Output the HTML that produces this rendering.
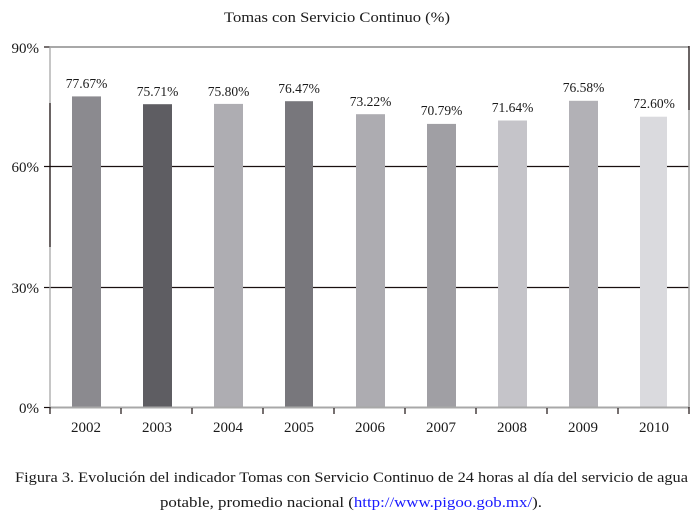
<!DOCTYPE html>
<html><head><meta charset="utf-8"><style>
html,body{margin:0;padding:0;background:#fff;}
svg{display:block;}
text{font-family:"Liberation Serif",serif;fill:#1a1a1a;}
</style></head><body>
<svg width="699" height="520" viewBox="0 0 699 520" xmlns="http://www.w3.org/2000/svg">
<rect width="699" height="520" fill="#fff"/>
<text x="337" y="22" font-size="14.5" text-anchor="middle" textLength="226" lengthAdjust="spacingAndGlyphs">Tomas con Servicio Continuo (%)</text>

<!-- gridlines -->
<line x1="50" y1="166.5" x2="689" y2="166.5" stroke="#1a1010" stroke-width="1.2"/>
<line x1="50" y1="287.5" x2="689" y2="287.5" stroke="#1a1010" stroke-width="1.2"/>
<!-- y ticks -->
<line x1="44" y1="47" x2="50" y2="47" stroke="#1a1010" stroke-width="1.2"/>
<line x1="44" y1="166.5" x2="50" y2="166.5" stroke="#1a1010" stroke-width="1.2"/>
<line x1="44" y1="287.5" x2="50" y2="287.5" stroke="#1a1010" stroke-width="1.2"/>
<line x1="44" y1="407.5" x2="50" y2="407.5" stroke="#1a1010" stroke-width="1.2"/>

<!-- bars -->
<g>
<rect x="72" y="96.4" width="29" height="311" fill="#8b8a8f"/>
<rect x="143" y="104.2" width="29" height="303.3" fill="#5e5d62"/>
<rect x="214" y="103.9" width="29" height="303.6" fill="#aeadb2"/>
<rect x="285" y="101.2" width="28" height="306.3" fill="#78777c"/>
<rect x="356" y="114.2" width="29" height="293.3" fill="#adacb1"/>
<rect x="427" y="123.9" width="29" height="283.6" fill="#a09fa4"/>
<rect x="498" y="120.5" width="29" height="287" fill="#c5c4c9"/>
<rect x="569" y="100.8" width="29" height="306.7" fill="#b2b1b6"/>
<rect x="640" y="116.7" width="27" height="290.8" fill="#dadade"/>
</g>

<!-- value labels -->
<g font-size="13.5" text-anchor="middle">
<text x="86.5" y="88">77.67%</text>
<text x="157.5" y="96">75.71%</text>
<text x="228.5" y="96">75.80%</text>
<text x="299" y="93">76.47%</text>
<text x="370.5" y="106">73.22%</text>
<text x="441.5" y="115">70.79%</text>
<text x="512.5" y="112">71.64%</text>
<text x="583.5" y="92">76.58%</text>
<text x="654" y="108">72.60%</text>
</g>

<!-- plot border -->
<line x1="50" y1="47" x2="689" y2="47" stroke="#a8a8a8" stroke-width="2"/>
<line x1="50" y1="407.5" x2="689" y2="407.5" stroke="#a8a8a8" stroke-width="2"/>
<line x1="50" y1="46" x2="50" y2="103" stroke="#a8a8a8" stroke-width="1.3"/>
<line x1="50" y1="103" x2="50" y2="247" stroke="#1a1010" stroke-width="1.3"/>
<line x1="50" y1="247" x2="50" y2="408" stroke="#a8a8a8" stroke-width="1.3"/>
<line x1="689" y1="46" x2="689" y2="110" stroke="#1a1010" stroke-width="1.3"/>
<line x1="689" y1="110" x2="689" y2="408" stroke="#a8a8a8" stroke-width="1.5"/>

<!-- x ticks -->
<g stroke="#1a1010" stroke-width="1.2">
<line x1="50" y1="407" x2="50" y2="414"/>
<line x1="121" y1="408" x2="121" y2="414"/>
<line x1="192" y1="408" x2="192" y2="414"/>
<line x1="263" y1="408" x2="263" y2="414"/>
<line x1="334" y1="408" x2="334" y2="414"/>
<line x1="405" y1="408" x2="405" y2="414"/>
<line x1="476" y1="408" x2="476" y2="414"/>
<line x1="547" y1="408" x2="547" y2="414"/>
<line x1="618" y1="408" x2="618" y2="414"/>
<line x1="689" y1="407" x2="689" y2="414"/>
</g>

<!-- y labels -->
<g font-size="15" text-anchor="end">
<text x="39" y="53">90%</text>
<text x="39" y="172">60%</text>
<text x="39" y="293">30%</text>
<text x="39" y="413">0%</text>
</g>

<!-- x labels -->
<g font-size="15" text-anchor="middle">
<text x="86" y="432">2002</text>
<text x="157" y="432">2003</text>
<text x="228" y="432">2004</text>
<text x="299" y="432">2005</text>
<text x="370" y="432">2006</text>
<text x="441" y="432">2007</text>
<text x="512" y="432">2008</text>
<text x="583" y="432">2009</text>
<text x="654" y="432">2010</text>
</g>

<!-- caption -->
<text x="15" y="482" font-size="14.5" textLength="673" lengthAdjust="spacingAndGlyphs">Figura 3. Evolución del indicador Tomas con Servicio Continuo de 24 horas al día del servicio de agua</text>
<text x="351" y="507" font-size="14.5" text-anchor="middle" textLength="382" lengthAdjust="spacingAndGlyphs">potable, promedio nacional (<tspan fill="#1a1aff">http://www.pigoo.gob.mx/</tspan>).</text>
</svg>
</body></html>
